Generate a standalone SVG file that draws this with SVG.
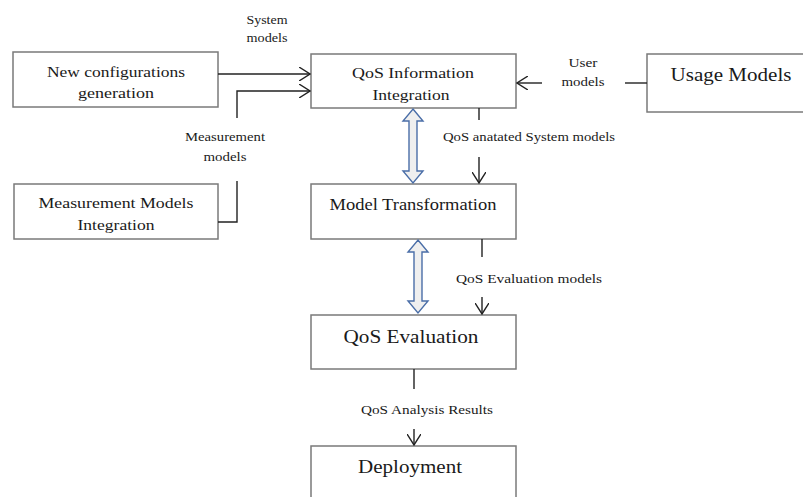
<svg xmlns="http://www.w3.org/2000/svg" width="803" height="497" viewBox="0 0 803 497">
<style>
.box{fill:#fff;stroke:#7a7a7a;stroke-width:1.5}
text{font-family:'Liberation Serif','DejaVu Serif','Times New Roman',serif;fill:#1a1a1a;text-anchor:middle}
.s{font-size:12px}
.m{font-size:15.5px}
.c{fill:none;stroke:#222;stroke-width:1.4}
.ba{fill:#efefef;stroke:#4a6ea8;stroke-width:1.4}
</style>
<defs>
<marker id="ah" viewBox="0 0 12 14" refX="11" refY="7" markerWidth="12" markerHeight="14" markerUnits="userSpaceOnUse" orient="auto">
<path d="M0,0 L11,7 L0,14" fill="none" stroke="#222" stroke-width="1.4"/>
</marker>
</defs>
<g id="n-newconf"><rect class="box" x="13" y="52" width="205" height="55"/>
<text class="m" x="116" y="77" textLength="138" lengthAdjust="spacingAndGlyphs">New configurations</text>
<text class="m" x="116" y="98" textLength="76" lengthAdjust="spacingAndGlyphs">generation</text></g>
<g id="n-qosinfo"><rect class="box" x="311" y="54" width="205" height="54"/>
<text class="m" x="413" y="78" textLength="122" lengthAdjust="spacingAndGlyphs">QoS Information</text>
<text class="m" x="411" y="100" textLength="77" lengthAdjust="spacingAndGlyphs">Integration</text></g>
<g id="n-usage"><rect class="box" x="647" y="54" width="160" height="58"/>
<text x="731" y="81" font-size="19" textLength="121" lengthAdjust="spacingAndGlyphs">Usage Models</text></g>
<g id="n-meas"><rect class="box" x="14" y="184" width="204" height="55"/>
<text class="m" x="116" y="208" textLength="155" lengthAdjust="spacingAndGlyphs">Measurement Models</text>
<text class="m" x="116" y="230" textLength="77" lengthAdjust="spacingAndGlyphs">Integration</text></g>
<g id="n-modeltr"><rect class="box" x="311" y="184" width="205" height="55"/>
<text x="413" y="210" font-size="17" textLength="167" lengthAdjust="spacingAndGlyphs">Model Transformation</text></g>
<g id="n-qoseval"><rect class="box" x="311" y="315" width="205" height="54"/>
<text x="411" y="343" font-size="19" textLength="135" lengthAdjust="spacingAndGlyphs">QoS Evaluation</text></g>
<g id="n-deploy"><rect class="box" x="311" y="446" width="205" height="60"/>
<text x="410" y="473" font-size="18" textLength="104" lengthAdjust="spacingAndGlyphs">Deployment</text></g>
<g id="connectors">
<line class="c" x1="218" y1="74" x2="310" y2="74" marker-end="url(#ah)"/>
<polyline class="c" points="218,222 237,222 237,181"/>
<polyline class="c" points="237,118 237,91 310,91" marker-end="url(#ah)"/>
<line class="c" x1="647" y1="83" x2="625" y2="83"/>
<line class="c" x1="542" y1="83" x2="517" y2="83" marker-end="url(#ah)"/>
<line class="c" x1="479" y1="108" x2="479" y2="120"/>
<line class="c" x1="479" y1="157" x2="479" y2="183" marker-end="url(#ah)"/>
<line class="c" x1="482" y1="239" x2="482" y2="257"/>
<line class="c" x1="482" y1="297" x2="482" y2="314" marker-end="url(#ah)"/>
<line class="c" x1="414" y1="369" x2="414" y2="389"/>
<line class="c" x1="414" y1="429" x2="414" y2="445" marker-end="url(#ah)"/>
<path class="ba" d="M413,109 L423,121 L417,121 L417,171 L423,171 L413,183 L403,171 L409,171 L409,121 L403,121 Z"/>
<path class="ba" d="M418,240 L428,252 L422,252 L422,301 L428,301 L418,313 L408,301 L414,301 L414,252 L408,252 Z"/>
<text class="s" x="267" y="24" textLength="41" lengthAdjust="spacingAndGlyphs">System</text>
<text class="s" x="267" y="42" textLength="41" lengthAdjust="spacingAndGlyphs">models</text>
<text class="s" x="225" y="141" textLength="80" lengthAdjust="spacingAndGlyphs">Measurement</text>
<text class="s" x="225" y="161" textLength="43" lengthAdjust="spacingAndGlyphs">models</text>
<text class="s" x="583" y="67" textLength="29" lengthAdjust="spacingAndGlyphs">User</text>
<text class="s" x="583" y="86" textLength="43" lengthAdjust="spacingAndGlyphs">models</text>
<text class="s" x="529" y="141" textLength="172" lengthAdjust="spacingAndGlyphs">QoS anatated System models</text>
<text class="s" x="529" y="283" textLength="146" lengthAdjust="spacingAndGlyphs">QoS Evaluation models</text>
<text class="s" x="427" y="414" textLength="132" lengthAdjust="spacingAndGlyphs">QoS Analysis Results</text>
</g>
</svg>
